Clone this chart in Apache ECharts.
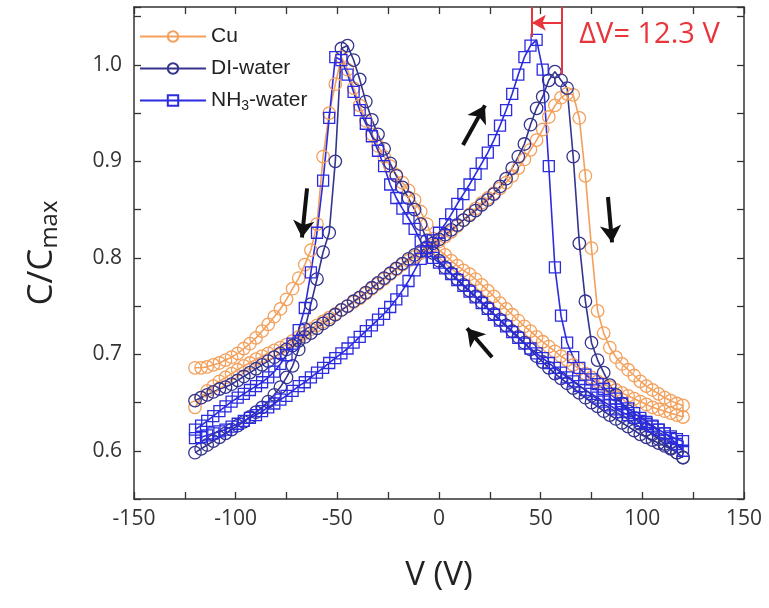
<!DOCTYPE html>
<html>
<head>
<meta charset="utf-8">
<script src="https://cdn.jsdelivr.net/npm/echarts@6/dist/echarts.min.js"></script>
<style>html,body{margin:0;padding:0;background:#fff;}#c{width:769px;height:608px;}</style>
</head>
<body>
<div id="c"></div>
<script>
// ---- data ----
const volts = [-120,-117,-114,-111,-108,-105,-102,-99,-96,-93,-90,-87,-84,-81,-78,-75,-72,-69,-66,-63,-60,-57,-54,-51,-48,-45,-42,-39,-36,-33,-30,-27,-24,-21,-18,-15,-12,-9,-6,-3,0,3,6,9,12,15,18,21,24,27,30,33,36,39,42,45,48,51,54,57,60,63,66,69,72,75,78,81,84,87,90,93,96,99,102,105,108,111,114,117,120];

// Cu: forward sweep (-120 -> 120) and reverse sweep (listed by ascending V)
const cuFwd = [0.645,0.655,0.662,0.667,0.672,0.676,0.680,0.684,0.688,0.691,0.695,0.698,0.701,0.704,0.707,0.710,0.714,0.718,0.722,0.726,0.730,0.734,0.738,0.742,0.746,0.750,0.754,0.758,0.763,0.768,0.773,0.778,0.783,0.788,0.793,0.797,0.801,0.805,0.809,0.813,0.817,0.822,0.827,0.833,0.839,0.845,0.851,0.857,0.862,0.867,0.872,0.878,0.885,0.893,0.902,0.912,0.922,0.933,0.946,0.958,0.966,0.970,0.969,0.945,0.885,0.810,0.745,0.722,0.707,0.697,0.690,0.684,0.678,0.672,0.667,0.663,0.659,0.655,0.652,0.649,0.647];
const cuRev = [0.686,0.686,0.687,0.689,0.691,0.694,0.697,0.701,0.706,0.711,0.717,0.724,0.731,0.739,0.747,0.757,0.768,0.779,0.793,0.808,0.835,0.905,0.950,0.980,1.008,0.995,0.976,0.958,0.942,0.928,0.916,0.905,0.895,0.886,0.878,0.870,0.860,0.848,0.835,0.820,0.808,0.803,0.797,0.792,0.787,0.783,0.778,0.772,0.766,0.760,0.753,0.747,0.741,0.735,0.729,0.724,0.718,0.713,0.708,0.703,0.698,0.694,0.689,0.685,0.680,0.676,0.672,0.669,0.666,0.663,0.660,0.657,0.654,0.651,0.648,0.645,0.643,0.641,0.639,0.637,0.635];

// DI-water
const diFwd = [0.652,0.655,0.658,0.661,0.664,0.666,0.669,0.673,0.677,0.681,0.685,0.689,0.693,0.697,0.701,0.705,0.709,0.714,0.718,0.722,0.727,0.732,0.736,0.741,0.746,0.750,0.755,0.759,0.764,0.769,0.774,0.779,0.784,0.789,0.794,0.799,0.803,0.807,0.811,0.815,0.819,0.824,0.829,0.834,0.839,0.844,0.849,0.855,0.860,0.866,0.874,0.882,0.893,0.905,0.918,0.938,0.955,0.967,0.984,0.993,0.984,0.976,0.905,0.815,0.755,0.712,0.694,0.681,0.668,0.658,0.649,0.641,0.634,0.628,0.622,0.617,0.612,0.607,0.603,0.598,0.593];
const diRev = [0.598,0.602,0.606,0.610,0.614,0.618,0.622,0.626,0.630,0.635,0.640,0.645,0.651,0.658,0.666,0.676,0.688,0.705,0.726,0.752,0.778,0.806,0.826,0.900,1.017,1.020,1.005,0.985,0.962,0.943,0.928,0.913,0.898,0.885,0.873,0.862,0.850,0.835,0.818,0.805,0.797,0.790,0.784,0.778,0.772,0.766,0.760,0.754,0.748,0.742,0.736,0.730,0.724,0.718,0.712,0.705,0.698,0.692,0.686,0.680,0.675,0.670,0.665,0.660,0.655,0.650,0.646,0.641,0.637,0.633,0.629,0.625,0.621,0.617,0.614,0.611,0.608,0.605,0.602,0.598,0.593];

// NH3-water
const nhFwd = [0.613,0.614,0.616,0.618,0.620,0.622,0.625,0.628,0.631,0.634,0.637,0.641,0.645,0.649,0.653,0.657,0.662,0.667,0.671,0.676,0.681,0.686,0.691,0.696,0.701,0.706,0.712,0.718,0.724,0.730,0.736,0.742,0.749,0.757,0.766,0.776,0.787,0.799,0.810,0.818,0.826,0.835,0.845,0.856,0.866,0.876,0.887,0.898,0.909,0.922,0.937,0.953,0.970,0.990,1.008,1.020,1.026,0.995,0.895,0.790,0.740,0.712,0.697,0.686,0.679,0.674,0.669,0.664,0.659,0.654,0.649,0.644,0.639,0.634,0.630,0.626,0.622,0.618,0.615,0.612,0.610];
const nhRev = [0.622,0.626,0.631,0.636,0.641,0.646,0.651,0.655,0.659,0.663,0.667,0.671,0.676,0.682,0.690,0.699,0.711,0.725,0.748,0.785,0.826,0.880,0.945,1.008,1.005,0.990,0.972,0.953,0.939,0.926,0.911,0.895,0.876,0.862,0.851,0.841,0.830,0.817,0.807,0.800,0.795,0.789,0.783,0.777,0.771,0.765,0.759,0.753,0.747,0.741,0.735,0.729,0.723,0.717,0.711,0.706,0.701,0.696,0.691,0.686,0.681,0.676,0.672,0.667,0.663,0.659,0.655,0.651,0.647,0.643,0.640,0.637,0.634,0.631,0.628,0.625,0.622,0.618,0.613,0.607,0.600];

const seriesNames = ['Cu', 'DI-water', 'NH3-water'];
const xTicks = [-150, -100, -50, 0, 50, 100, 150];
const yTicks = [0.6, 0.7, 0.8, 0.9, 1.0];

// annotation: ΔV between peaks
const deltaLabel = 'ΔV= 12.3 V';
const annotV = [45.7, 60.5];

function loop(fwd, rev) {
  const pts = [];
  for (let i = 0; i < volts.length; i++) pts.push([volts[i], fwd[i]]);
  for (let i = volts.length - 1; i >= 0; i--) pts.push([volts[i], rev[i]]);
  return pts;
}

const colors = { cu: '#f3a05c', di: '#34348f', nh: '#2b2be0' };
const red = '#e8353b';

const chart = echarts.init(document.getElementById('c'), null, { renderer: 'canvas' });
const fontFam = '"Open Sans", "Liberation Sans", Arial, sans-serif';
const axisCol = '#333';

function mkSeries(name, data, col, symbol, size) {
  return {
    name: name, type: 'line', data: data,
    symbol: symbol, symbolSize: size, showAllSymbol: true,
    lineStyle: { color: col, width: 1.6 },
    itemStyle: { color: 'rgba(255,255,255,0)', borderColor: col, borderWidth: 1.3 },
    emphasis: { disabled: true }, z: 3
  };
}

const arrowBlack = { color: '#111', width: 4, type: 'solid' };
function blackArrow(a, b) {
  return [{ coord: a, symbol: 'none', lineStyle: arrowBlack }, { coord: b, symbol: 'arrow', symbolSize: [16, 17] }];
}

const tickStyle = { color: axisCol, width: 1.3 };
const option = {
  animation: false,
  backgroundColor: '#fff',
  grid: { left: 134, right: 25, top: 7, bottom: 109, containLabel: false },
  legend: {
    data: seriesNames, orient: 'vertical', left: 134, top: 21,
    itemWidth: 66, itemHeight: 13, itemGap: 11,
    textStyle: { fontFamily: '"Liberation Sans", Arial, sans-serif', fontSize: 21, color: '#222',
      rich: { s: { fontSize: 14, fontFamily: '"Liberation Sans", Arial, sans-serif', color: '#222', padding: [12, 0, 0, 0] } } },
    formatter: function (n) { return n === 'NH3-water' ? 'NH{s|3}-water' : n; }
  },
  xAxis: [{
    type: 'value', min: -150, max: 150, interval: 50, position: 'bottom',
    name: 'V (V)', nameLocation: 'middle', nameGap: 60,
    nameTextStyle: { fontFamily: fontFam, fontSize: 33, color: '#222' },
    axisLine: { show: true, onZero: false, lineStyle: { color: axisCol, width: 1.5 } },
    axisTick: { show: true, inside: true, length: 7, lineStyle: tickStyle },
    minorTick: { show: true, splitNumber: 2, length: 7, lineStyle: tickStyle },
    axisLabel: { fontFamily: fontFam, fontSize: 21, color: '#333', margin: 10,
      formatter: function (v) { return xTicks.indexOf(v) >= 0 ? String(v) : ''; } },
    splitLine: { show: false }
  }, {
    type: 'value', min: -150, max: 150, interval: 50, position: 'top',
    axisLine: { show: true, onZero: false, lineStyle: { color: axisCol, width: 1.5 } },
    axisTick: { show: true, inside: true, length: 7, lineStyle: tickStyle },
    minorTick: { show: true, splitNumber: 2, length: 7, lineStyle: tickStyle },
    axisLabel: { show: false }, splitLine: { show: false }
  }],
  yAxis: [{
    type: 'value', min: 0.55, max: 1.06, interval: 0.05, position: 'left',
    name: 'C/C{s|max}', nameLocation: 'middle', nameGap: 72, nameRotate: 90,
    nameTextStyle: { fontFamily: fontFam, fontSize: 35, color: '#222',
      rich: { s: { fontFamily: fontFam, fontSize: 24, color: '#222', padding: [15, 0, 0, 0] } } },
    axisLine: { show: true, onZero: false, lineStyle: { color: axisCol, width: 1.5 } },
    axisTick: { show: true, inside: true, length: 7, lineStyle: tickStyle },
    axisLabel: { fontFamily: fontFam, fontSize: 21, color: '#333', margin: 12,
      formatter: function (v) {
        const r = Math.round(v * 100);
        for (const t of yTicks) { if (Math.round(t * 100) === r) return t.toFixed(1); }
        return '';
      } },
    splitLine: { show: false }
  }, {
    type: 'value', min: 0.55, max: 1.06, interval: 0.05, position: 'right',
    axisLine: { show: true, onZero: false, lineStyle: { color: axisCol, width: 1.5 } },
    axisTick: { show: true, inside: true, length: 7, lineStyle: tickStyle },
    axisLabel: { show: false }, splitLine: { show: false }
  }],
  series: [
    mkSeries('Cu', loop(cuFwd, cuRev), colors.cu, 'circle', 12.5),
    mkSeries('DI-water', loop(diFwd, diRev), colors.di, 'circle', 12.5),
    mkSeries('NH3-water', loop(nhFwd, nhRev), colors.nh, 'rect', 11),
    {
      name: 'annot', type: 'line', data: [], silent: true, z: 5,
      markLine: {
        silent: true, animation: false, label: { show: false }, emphasis: { disabled: true },
        lineStyle: { color: red, width: 2, type: 'solid' },
        data: [
          [{ coord: [annotV[0], 1.06], symbol: 'none', lineStyle: { color: red, width: 2, type: 'solid' } }, { coord: [annotV[0], 1.029], symbol: 'none' }],
          [{ coord: [annotV[1], 1.06], symbol: 'none', lineStyle: { color: red, width: 2, type: 'solid' } }, { coord: [annotV[1], 0.99], symbol: 'none' }],
          [{ coord: [annotV[1], 1.0436], symbol: 'none', lineStyle: { color: red, width: 2, type: 'solid' } }, { coord: [annotV[0], 1.0436], symbol: 'arrow', symbolSize: [12, 14] }],
          blackArrow([-64.9, 0.872], [-67.4, 0.821]),
          blackArrow([83.1, 0.863], [85.1, 0.816]),
          blackArrow([11.8, 0.917], [22.6, 0.958]),
          blackArrow([26.1, 0.697], [13.8, 0.727])
        ]
      }
    }
  ]
};
chart.setOption(option);

// ΔV label placed in data coordinates
const p = chart.convertToPixel({ gridIndex: 0 }, [annotV[1] + 8.5, 1.031]);
chart.setOption({
  graphic: [{
    type: 'text', x: p[0], y: p[1],
    style: { text: deltaLabel, fill: red, font: '29px "Open Sans", "Liberation Sans", sans-serif', textVerticalAlign: 'middle', textAlign: 'left' },
    z: 10
  }]
});
</script>
</body>
</html>
